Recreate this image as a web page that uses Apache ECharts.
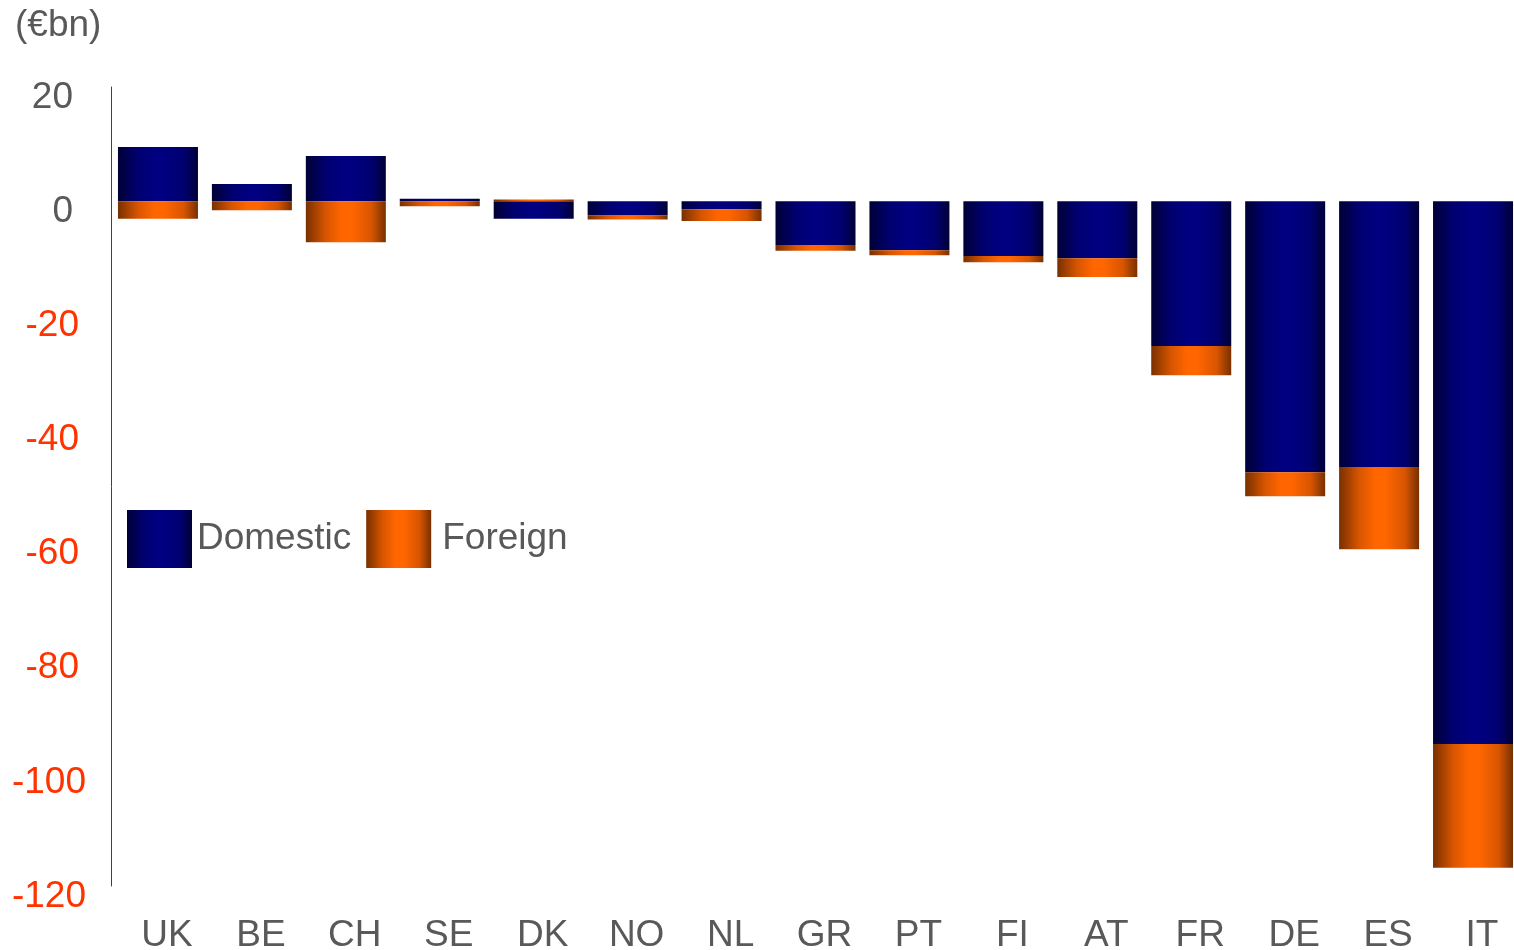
<!DOCTYPE html>
<html>
<head>
<meta charset="utf-8">
<title>Domestic and foreign (€bn)</title>
<script src="https://cdn.jsdelivr.net/npm/echarts@6/dist/echarts.min.js"></script>
<style>
  html, body { margin: 0; padding: 0; background: #ffffff; }
  #chart { width: 1514px; height: 950px; }
</style>
</head>
<body>
<div id="chart"></div>
<script>
// Countries, left to right
const categories = ['UK', 'BE', 'CH', 'SE', 'DK', 'NO', 'NL', 'GR', 'PT', 'FI', 'AT', 'FR', 'DE', 'ES', 'IT'];
// Values in €bn
const domestic = [9.5, 3.0, 7.9, 0.4, -3.1, -2.5, -1.4, -7.7, -8.6, -9.6, -10.0, -25.4, -47.5, -46.6, -95.1];
const foreign  = [-3.1, -1.6, -7.2, -0.9, 0.3, -0.7, -2.1, -1.0, -0.9, -1.1, -3.3, -5.1, -4.2, -14.4, -21.7];
// Value axis
const yMin = -120;
const yMax = 20;
const yStep = 20;

const FONT = '"Liberation Sans", Arial, sans-serif';
const TEXT = '#595959';
const NEG = '#ff3300';

// Cylinder-like horizontal shading for each bar
function shade(edge, mid, center) {
  return new echarts.graphic.LinearGradient(0, 0, 1, 0, [
    { offset: 0, color: edge },
    { offset: 0.25, color: mid },
    { offset: 0.45, color: center },
    { offset: 0.58, color: center },
    { offset: 0.82, color: mid },
    { offset: 1, color: edge }
  ]);
}
const navy = shade('#000036', '#000070', '#000080');
const orange = shade('#783000', '#d85500', '#ff6600');

const chart = echarts.init(document.getElementById('chart'), null, { renderer: 'canvas' });

chart.setOption({
  animation: false,
  backgroundColor: '#ffffff',
  textStyle: { fontFamily: FONT },
  title: {
    text: '(€bn)',
    left: 15,
    top: 7,
    padding: 0,
    textStyle: { fontFamily: FONT, fontSize: 37, fontWeight: 'normal', color: TEXT }
  },
  legend: {
    left: 127,
    top: 510,
    padding: 0,
    itemWidth: 65,
    itemHeight: 58,
    itemGap: 15,
    icon: 'rect',
    textStyle: { fontFamily: FONT, fontSize: 37, color: TEXT, padding: [0, 0, 6, 0] },
    data: [
      { name: 'Domestic' },
      { name: 'Foreign', textStyle: { padding: [0, 0, 6, 6] } }
    ]
  },
  grid: {
    left: 111,
    right: -6,          // last column runs a little past the right edge
    top: 87,
    bottom: 64,
    containLabel: false,
    outerBoundsMode: 'none'
  },
  xAxis: {
    type: 'category',
    data: categories,
    axisLine: { show: false },
    axisTick: { show: false },
    splitLine: { show: false },
    axisLabel: {
      fontFamily: FONT,
      fontSize: 37,
      color: TEXT,
      margin: 31,
      padding: [0, 0, 0, 18]
    }
  },
  yAxis: {
    type: 'value',
    min: yMin,
    max: yMax,
    interval: yStep,
    axisLine: { show: true, lineStyle: { color: '#404040', width: 1 } },
    axisTick: { show: false },
    splitLine: { show: false },
    axisLabel: {
      fontFamily: FONT,
      fontSize: 37,
      margin: 25,
      padding: [21, 0, 0, 0],
      formatter: function (v) {
        if (v >= 0) return '{pos|' + v + '}';
        return v > -100 ? '{neg2|' + v + '}' : '{neg3|' + v + '}';
      },
      rich: {
        pos: { color: TEXT, fontFamily: FONT, fontSize: 37, padding: [0, 13, 0, 0] },
        neg2: { color: NEG, fontFamily: FONT, fontSize: 37, padding: [0, 7, 0, 0] },
        neg3: { color: NEG, fontFamily: FONT, fontSize: 37 }
      }
    }
  },
  series: [
    {
      name: 'Domestic',
      type: 'bar',
      stack: 'total',
      barWidth: 80,
      data: domestic,
      itemStyle: { color: navy }
    },
    {
      name: 'Foreign',
      type: 'bar',
      stack: 'total',
      barWidth: 80,
      data: foreign,
      itemStyle: { color: orange }
    }
  ]
});
</script>
</body>
</html>
